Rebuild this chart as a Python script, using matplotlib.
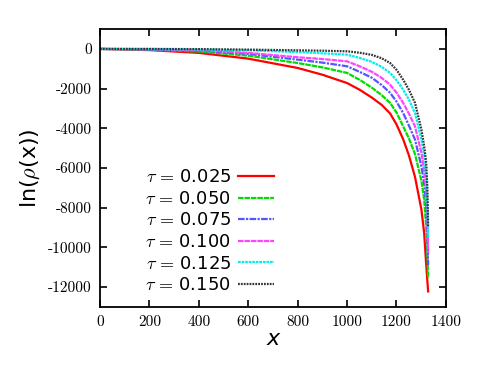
import matplotlib.pyplot as plt

plt.rcParams['mathtext.fontset'] = 'cm'
plt.rcParams['axes.unicode_minus'] = False

x = [0, 200, 400, 600, 800, 900, 1000, 1050, 1100, 1140, 1174, 1200, 1227,
     1250, 1275, 1301, 1312, 1320, 1325, 1328]

taus = ['0.025', '0.050', '0.075', '0.100', '0.125', '0.150']
ln_rho = [
    [0, -60, -200, -490, -960, -1300, -1720, -2050, -2450, -2820, -3250, -3800,
     -4550, -5350, -6450, -8100, -9280, -10800, -11700, -12220],
    [0, -40, -130, -340, -710, -930, -1210, -1550, -1950, -2330, -2720, -3200,
     -3900, -4500, -5300, -6650, -7600, -8900, -10300, -11550],
    [0, -25, -90, -250, -540, -690, -875, -1150, -1450, -1820, -2210, -2650,
     -3230, -3850, -4570, -5920, -6800, -7800, -9200, -10900],
    [0, -15, -60, -200, -420, -510, -625, -870, -1150, -1460, -1800, -2200,
     -2720, -3250, -3900, -5240, -6100, -7100, -8500, -10300],
    [0, -5, -30, -70, -160, -220, -290, -450, -650, -900, -1210, -1580,
     -2050, -2550, -3230, -4570, -5400, -6400, -7800, -9500],
    [0, 0, -10, -35, -70, -90, -120, -190, -300, -470, -710, -1050,
     -1550, -2050, -2720, -4070, -4900, -5700, -7000, -8950],
]

colors = ['#ff0000', '#00dd00', '#5555ff', '#ff44ff', '#00eeee', '#333333']
styles = ['-', (0, (2.5, 0.4)), (0, (3, 0.6, 1, 0.6)), (0, (2.5, 0.4)),
          (0, (1.2, 0.4)), (0, (0.8, 0.5))]

fig = plt.figure(figsize=(4.9, 3.68), dpi=100)
ax = fig.add_axes([0.204, 0.166, 0.706, 0.755])

for tau, y, c, ls in zip(taus, ln_rho, colors, styles):
    ax.plot(x, y, color=c, linestyle=ls, linewidth=1.6,
            label=r'$\tau\,=\,$' + tau)

ax.set_xlim(0, 1400)
ax.set_ylim(-13000, 1000)
ax.set_xticks(range(0, 1401, 200))
ax.set_yticks(range(-12000, 1, 2000))

ax.tick_params(direction='in', top=True, right=True, length=5, width=1.2,
               labelsize=11, pad=6)
for lab in ax.get_xticklabels() + ax.get_yticklabels():
    lab.set_family('cmr10')
for s in ax.spines.values():
    s.set_linewidth(1.3)

ax.set_xlabel('x', fontsize=16, style='italic', labelpad=0)
ax.set_ylabel(r'ln($\rho$(x))', fontsize=16, labelpad=4)

ax.legend(loc='lower left', bbox_to_anchor=(0.095, 0.0), frameon=False,
          markerfirst=False, fontsize=13, handlelength=2.0,
          handletextpad=0.4, labelspacing=0.2, borderpad=0.2)

plt.savefig('out.png')
